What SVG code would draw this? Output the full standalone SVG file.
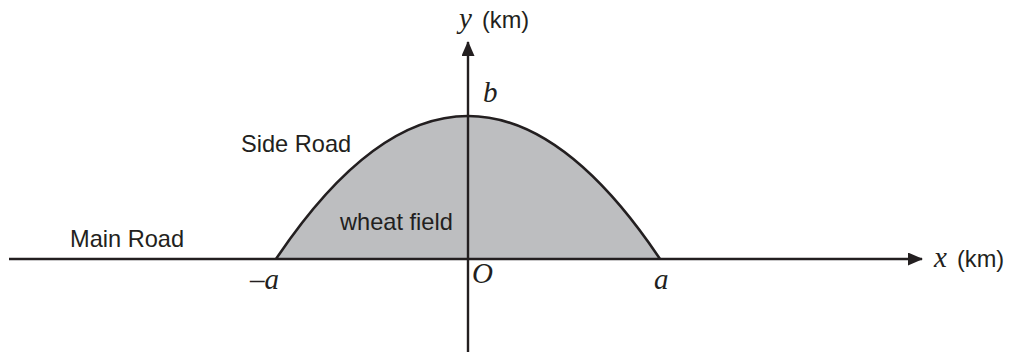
<svg xmlns="http://www.w3.org/2000/svg" width="1009" height="352" viewBox="0 0 1009 352">
<style>
.sans{font-family:"Liberation Sans",Arial,sans-serif;font-size:23.6px;fill:#231f20}
.it{font-family:"Liberation Serif","Times New Roman",serif;font-style:italic;font-size:29px;fill:#231f20}
.ax{stroke:#231f20;stroke-width:2.4;fill:none}
</style>
<defs>
<marker id="arr" viewBox="0 0 15 13" refX="14" refY="6.5" markerWidth="15" markerHeight="13" markerUnits="userSpaceOnUse" orient="auto">
<path d="M0,0 L15,6.5 L0,13 Z" fill="#231f20"/>
</marker>
</defs>
<g id="field">
<path d="M276,259 Q468,-27 660,259 Z" fill="#bdbec0" stroke="none"/>
<path d="M276,259 Q468,-27 660,259" fill="none" stroke="#231f20" stroke-width="2.6"/>
</g>
<g id="connectors">
<line class="ax" x1="9" y1="259" x2="922" y2="259" marker-end="url(#arr)"/>
<line class="ax" x1="468" y1="352" x2="468" y2="42" marker-end="url(#arr)"/>
</g>
<g id="labels">
<text class="it" x="459" y="28">y</text>
<text class="sans" x="482" y="28">(km)</text>
<text class="it" x="483" y="102">b</text>
<text class="it" x="934" y="267">x</text>
<text class="sans" x="957" y="267">(km)</text>
<text class="it" x="250" y="289">–a</text>
<text class="it" x="654" y="289">a</text>
<text class="it" x="472" y="283">O</text>
<text class="sans" x="70" y="247">Main Road</text>
<text class="sans" x="241" y="152">Side Road</text>
<text class="sans" x="340" y="230">wheat field</text>
</g>
</svg>
